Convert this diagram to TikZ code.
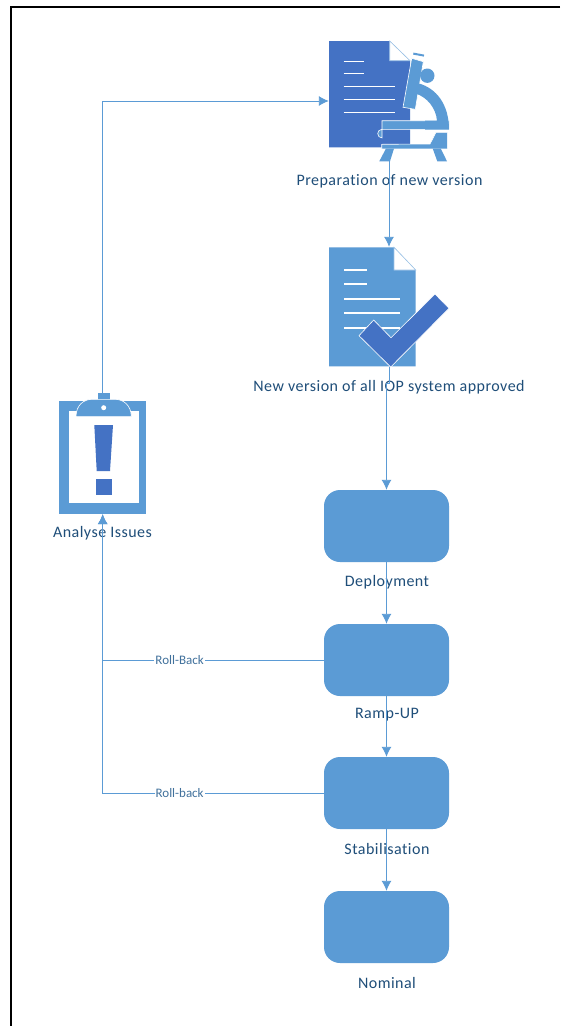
\documentclass[tikz,border=0pt]{standalone}
\usepackage{fontspec}
\setmainfont{Carlito}[Ligatures=CommonOff]
\usetikzlibrary{arrows.meta}
\definecolor{lightblue}{HTML}{5B9BD5}
\definecolor{darkblue}{HTML}{4472C4}
\definecolor{textblue}{HTML}{1F4E79}
\definecolor{linkblue}{HTML}{41719C}
\tikzset{
  flow/.style={draw=lightblue, line width=.9pt, -{Latex[length=10pt,width=10pt]}},
  phase/.style={fill=lightblue, rounded corners=16pt, minimum width=125pt, minimum height=72pt, inner sep=0pt},
  icon/.style={minimum width=120pt, minimum height=120pt, inner sep=0pt},
  lbl/.style={text=textblue, font=\fontsize{16}{19}\selectfont\addfontfeatures{LetterSpace=3}, inner sep=0pt},
  linklbl/.style={text=linkblue, font=\fontsize{13}{15}\selectfont, fill=white, inner sep=1pt},
  docline/.style={draw=white, line width=1.4pt},
  cut/.style={draw=white, line width=.6pt}
}
\begin{document}
\begin{tikzpicture}[x=1pt,y=-1pt]
\useasboundingbox (0,0) rectangle (560,1026);
\fill[white] (0,0) rectangle (560,1026);
\draw[line width=2pt] (560,7)--(11,7)--(11,1026);

\node[icon] (prep) at (389,101) {};
\node[icon] (approved) at (389,307) {};
\node[icon, minimum width=87pt, minimum height=121pt] (analyse) at (102.7,453.5) {};
\node[phase] (deploy) at (386.5,526) {};
\node[phase] (ramp) at (386.5,660) {};
\node[phase] (stab) at (386.5,793) {};
\node[phase] (nominal) at (386.5,927) {};

% new version document with microscope
\fill[darkblue] (329,41)--(389.7,41)--(410,60.7)--(410,147.3)--(329,147.3)--cycle;
\filldraw[fill=white, draw=lightblue!60, line width=.6pt] (389.7,41)--(410,60.7)--(389.7,60.7)--cycle;
\foreach \y in {61.3,73.7} \draw[docline] (343.7,\y)--(364,\y);
\foreach \y in {86.7,99.3,112.3} \draw[docline] (343.7,\y)--(395.3,\y);
\filldraw[fill=lightblue, cut] (411.7,58.3)--(423.3,61.7)--(415.3,109.3)--(403,107.3)--cycle;
\draw[lightblue, line width=2pt] (413.3,53.6)--(424,55.6);
\fill[lightblue] (427.3,75.7) circle (7.2);
\filldraw[fill=lightblue, cut] (382,120.7)--(449,120.7)--(449,129.3)--(382,129.3) arc (270:90:4.3)--cycle;
\fill[lightblue] (418.3,83.3) .. controls (436,88) and (449,104) .. (449,129.7)--(425,129.7)--(425,120.7)--(437,120.7) .. controls (436,108) and (427,97) .. (415.5,93.5)--cycle;
\filldraw[fill=lightblue, cut] (381.7,144.3)--(430,144)--(436,132.3)--(447.3,132.3)--(447.3,148.9)--(381.7,148.9)--cycle;
\fill[lightblue] (386,148.5)--(394,148.5)--(390,161.3)--(379.3,161.3)--cycle;
\fill[lightblue] (432.7,148.5)--(440.7,148.5)--(447,161.3)--(437.3,161.3)--cycle;

% approved document with check mark
\fill[lightblue] (329,247.3)--(394,247.3)--(415.7,270)--(415.7,366.3)--(329,366.3)--cycle;
\filldraw[fill=white, draw=lightblue!60, line width=.6pt] (394,247.3)--(415.7,270)--(394,270)--cycle;
\foreach \y in {270,284} \draw[docline, line width=1.8pt] (344,\y)--(366.7,\y);
\foreach \y in {299,313,327.7} \draw[docline, line width=1.8pt] (344,\y)--(400,\y);
\filldraw[fill=darkblue, cut] (359,335.7)--(373.7,320)--(391,337.7)--(435,294)--(449,308.3)--(390.7,367)--cycle;

% clipboard
\fill[lightblue] (59.3,401) rectangle (146,513.7);
\fill[white] (69,411) rectangle (139,503);
\fill[lightblue] (97.7,393.3) rectangle (109.7,401);
\filldraw[fill=lightblue, cut] (76,416.7) .. controls (76,405) and (84,399.3) .. (92,399.3)--(115,399.3) .. controls (123,399.3) and (131.3,405) .. (131.3,416.7)--cycle;
\fill[white] (103.7,407.7) circle (2.5);
\fill[darkblue] (94.3,425)--(113,425)--(110,471)--(96.7,471)--cycle;
\fill[darkblue] (96,479) rectangle (111.7,494.7);

\node[lbl] (preplbl) at (389.5,181) {Preparation of new version};
\node[lbl] (approvedlbl) at (389,387) {New version of all IOP system approved};
\node[lbl] (analyselbl) at (102.5,533) {Analyse Issues};
\node[lbl] (deploylbl) at (387,582) {Deployment};
\node[lbl] (ramplbl) at (387,715) {Ramp-UP};
\node[lbl] (stablbl) at (387,849) {Stabilisation};
\node[lbl] (nominallbl) at (387,983) {Nominal};

\draw[flow] (prep.south)--(approved.north);
\draw[flow] (approved.south)--++(0,16)-|(deploy.north);
\draw[flow] (deploy.south)--(ramp.north);
\draw[flow] (ramp.south)--(stab.north);
\draw[flow] (stab.south)--(nominal.north);
\draw[flow] (analyse.north)|-(prep.west);
\draw[flow] (ramp.west)-|(analyse.south) node[linklbl, pos=.326] (rollbacka) {Roll-Back};
\draw[flow] (stab.west)-|(analyse.south) node[linklbl, pos=.326] (rollbackb) {Roll-back};
\end{tikzpicture}
\end{document}
